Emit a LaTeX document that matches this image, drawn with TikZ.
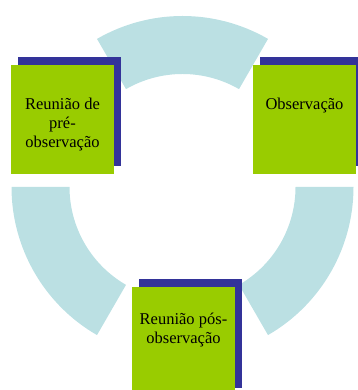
\documentclass[tikz,border=0pt]{standalone}
\usepackage{fontspec}
\setmainfont{Liberation Serif}
\usetikzlibrary{positioning,shadows}

\definecolor{ringblue}{RGB}{187,224,227}
\definecolor{boxgreen}{RGB}{153,204,0}
\definecolor{shadowblue}{RGB}{51,51,153}

\tikzset{
  box/.style={fill=boxgreen, minimum width=103, minimum height=109, inner sep=0,
    general shadow={fill=shadowblue, shadow xshift=7, shadow yshift=8}},
  lbl/.style={inner sep=0, align=center, font=\fontsize{16.5}{19}\selectfont}
}

\begin{document}
\begin{tikzpicture}[x=1pt,y=1pt]
\useasboundingbox (0,0) rectangle (357,390);
% ring segments
\begin{scope}[shift={(182.5,203)}]
\foreach \a in {60,180,300}
  \fill[ringblue] (\a:171) arc[start angle=\a, end angle=\a+60, radius=171]
    -- (\a+60:113) arc[start angle=\a+60, end angle=\a, radius=113] -- cycle;
\end{scope}
% boxes
\node[box] (pre) at (62.5,270.5) {};
\node[box] (obs) at (304.5,270.5) {};
\node[box] (pos) at (183.5,48.5) {};
\node[lbl, below=33 of pre.north] (pretxt) {Reunião de\\pré-\\observação};
\node[lbl, below=33 of obs.north] (obstxt) {Observação};
\node[lbl, below=26.5 of pos.north] (postxt) {Reunião pós-\\observação};
\end{tikzpicture}
\end{document}
